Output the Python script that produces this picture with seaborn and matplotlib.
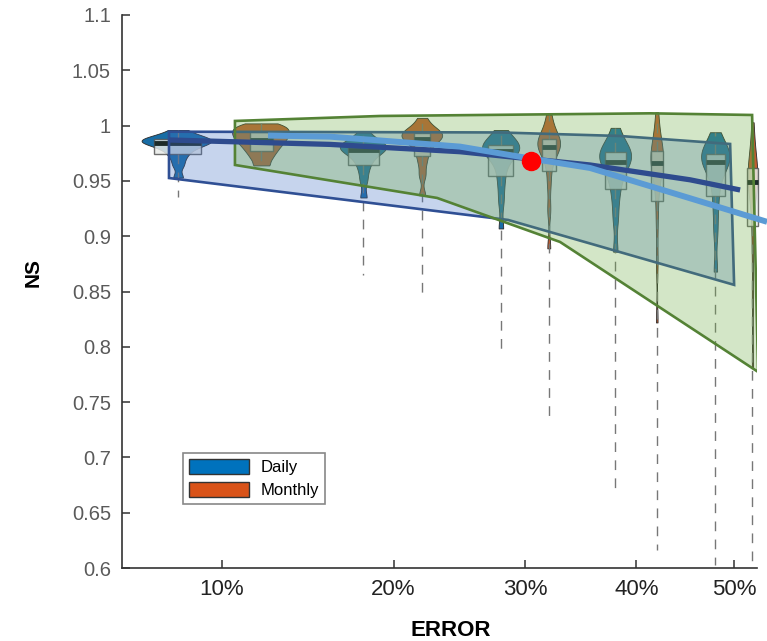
import numpy as np
import pandas as pd
import matplotlib
matplotlib.use("Agg")
import matplotlib.pyplot as plt
import seaborn as sns
from matplotlib.patches import Patch
from matplotlib.colors import to_rgba
from matplotlib.ticker import FixedLocator, MultipleLocator, FuncFormatter

# ---------------- data ----------------
errors = [10, 20, 30, 40, 50]
error_labels = ["10%", "20%", "30%", "40%", "50%"]
series_names = ["Daily", "Monthly"]

daily_10 = [0.996, 0.9917, 0.9896, 0.9883, 0.9874, 0.9865, 0.9857, 0.9848, 0.9835, 0.9818, 0.9792, 0.9758, 0.9711, 0.9642, 0.953]
daily_20 = [0.994, 0.9881, 0.9852, 0.9834, 0.9822, 0.9810, 0.9798, 0.9787, 0.9769, 0.9745, 0.9710, 0.9663, 0.9598, 0.9503, 0.935]
daily_30 = [0.996, 0.9889, 0.9853, 0.9831, 0.9818, 0.9804, 0.9791, 0.9778, 0.9760, 0.9729, 0.9666, 0.9577, 0.9462, 0.9310, 0.907]
daily_40 = [0.998, 0.9868, 0.9812, 0.9778, 0.9756, 0.9734, 0.9711, 0.9689, 0.9655, 0.9610, 0.9543, 0.9454, 0.9330, 0.9151, 0.886]
daily_50 = [0.994, 0.9840, 0.9791, 0.9760, 0.9741, 0.9722, 0.9704, 0.9685, 0.9661, 0.9617, 0.9531, 0.9407, 0.9246, 0.9034, 0.868]

monthly_10 = [1.002, 0.9997, 0.9978, 0.9959, 0.9940, 0.9921, 0.9902, 0.9883, 0.9860, 0.9838, 0.9811, 0.9781, 0.9746, 0.9701, 0.964]
monthly_20 = [1.007, 1.0000, 0.9965, 0.9944, 0.9930, 0.9916, 0.9902, 0.9888, 0.9867, 0.9839, 0.9797, 0.9741, 0.9664, 0.9552, 0.937]
monthly_30 = [1.010, 1.0003, 0.9931, 0.9894, 0.9870, 0.9852, 0.9834, 0.9816, 0.9798, 0.9773, 0.9725, 0.9628, 0.9471, 0.9241, 0.889]
monthly_40 = [1.012, 0.9968, 0.9854, 0.9797, 0.9759, 0.9731, 0.9702, 0.9674, 0.9645, 0.9607, 0.9531, 0.9379, 0.9132, 0.8771, 0.822]
monthly_50 = [1.003, 0.9852, 0.9719, 0.9653, 0.9608, 0.9575, 0.9542, 0.9508, 0.9475, 0.9431, 0.9342, 0.9164, 0.8876, 0.8454, 0.781]

daily_samples = [daily_10, daily_20, daily_30, daily_40, daily_50]
monthly_samples = [monthly_10, monthly_20, monthly_30, monthly_40, monthly_50]

# lowest whisker values
daily_low = [0.935, 0.865, 0.795, 0.671, 0.603]
monthly_low = [0.962, 0.842, 0.734, 0.616, 0.600]

# envelopes
blue_band_x = [7.61, 27.93, 38.45, 49.57, 50.0, 28.58, 7.61]
blue_band_y = [0.9945, 0.9938, 0.9906, 0.9834, 0.856, 0.9147, 0.9526]
green_band_x = [10.64, 19.09, 41.34, 51.96, 52.62, 32.98, 23.08, 10.64]
green_band_y = [1.0042, 1.0087, 1.0111, 1.0096, 0.7773, 0.8948, 0.9346, 0.9644]

# trend lines
dark_line_x = [7.61, 15.90, 24.79, 35.66, 45.36, 50.65]
dark_line_y = [0.987, 0.983, 0.9764, 0.9644, 0.951, 0.9418]
light_line_x = [12.35, 15.90, 24.79, 30.40, 35.66, 45.36, 53.62]
light_line_y = [0.991, 0.990, 0.981, 0.9703, 0.9617, 0.9343, 0.913]
point_x = [30.45]
point_y = [0.968]

# ---------------- tables ----------------
rows = []
for err, d, m in zip(errors, daily_samples, monthly_samples):
    rows += [(err, "Daily", v) for v in d]
    rows += [(err, "Monthly", v) for v in m]
df = pd.DataFrame(rows, columns=["ERROR", "Series", "NS"])
low_rows = [(e, "Daily", v) for e, v in zip(errors, daily_low)] + \
           [(e, "Monthly", v) for e, v in zip(errors, monthly_low)]
box_df = pd.concat([df, pd.DataFrame(low_rows, columns=df.columns)], ignore_index=True)

# ---------------- style ----------------
plt.rcParams["font.family"] = ["Liberation Sans", "DejaVu Sans"]
palette = {"Daily": "#0072BD", "Monthly": "#D95319"}
box_palette = {"Daily": "#e8eae8", "Monthly": "#e8eae8"}

fig = plt.figure(figsize=(7.67, 6.41), dpi=100)
ax = fig.add_axes([122 / 767, 1 - 568 / 641, 635 / 767, 553 / 641])

common = dict(x="ERROR", y="NS", hue="Series", hue_order=series_names,
              native_scale=True, dodge=True, width=0.8, legend=False, ax=ax)
vio = dict(palette=palette, inner=None, cut=0, gap=0.25,
           linecolor="#2a2a2a", linewidth=0.6)
box = dict(palette=box_palette, whis=(0, 100), showfliers=False,
           linecolor="#555555", linewidth=1.0, boxprops={"alpha": 0.85},
           medianprops={"color": "#1d2b29", "linewidth": 3.5},
           whiskerprops={"color": "#777777", "linewidth": 1.0, "linestyle": (0, (7, 6))},
           capprops={"linewidth": 0})

sns.violinplot(data=df[df["Series"] == "Daily"], density_norm="width",
               bw_adjust=0.6, **vio, **common)
sns.violinplot(data=df[df["Series"] == "Monthly"], density_norm="area",
               common_norm=True, bw_adjust=0.5, **vio, **common)
sns.boxplot(data=box_df[box_df["Series"] == "Daily"], gap=0.5, **box, **common)
sns.boxplot(data=box_df[box_df["Series"] == "Monthly"], gap=0.7, **box, **common)
for art in list(ax.collections) + list(ax.patches) + list(ax.lines):
    art.set_clip_on(False)

# square-root error axis
ax.set_xscale("function", functions=(lambda v: np.sqrt(np.maximum(v, 0)),
                                     lambda v: np.square(v)))

ax.fill(blue_band_x, blue_band_y, facecolor=to_rgba("#4472c4", 0.3),
        edgecolor="#2f4f94", linewidth=1.9, zorder=3)
ax.fill(green_band_x, green_band_y, facecolor=to_rgba("#70ad47", 0.3),
        edgecolor="#548235", linewidth=1.9, zorder=3.1)
ax.plot(dark_line_x, dark_line_y, color="#2e4b8e", linewidth=3.8,
        solid_capstyle="butt", zorder=4)
ax.plot(light_line_x, light_line_y, color="#5b9bd5", linewidth=4.3,
        solid_capstyle="butt", zorder=4.1, clip_on=False)
ax.plot(point_x, point_y, "o", color="#ff0000", markersize=13, zorder=5)

ax.set_xlim(5.76, 52.5)
ax.set_ylim(0.6, 1.1)
ax.xaxis.set_major_locator(FixedLocator(errors))
ax.xaxis.set_minor_locator(FixedLocator([]))
ax.set_xticklabels(error_labels)
ax.yaxis.set_major_locator(MultipleLocator(0.05))
ax.yaxis.set_major_formatter(FuncFormatter(lambda v, p: f"{v:g}"))

for s in ["top", "right"]:
    ax.spines[s].set_visible(False)
for s in ["left", "bottom"]:
    ax.spines[s].set_color("#333333")
    ax.spines[s].set_linewidth(1.2)
ax.tick_params(axis="y", direction="in", length=6, width=1.1, labelsize=14.5,
               labelcolor="#5a5a5a", pad=8, color="#333333")
ax.tick_params(axis="x", direction="in", length=6, width=1.1, labelsize=16,
               labelcolor="#222222", pad=8, color="#333333")

ax.set_xlabel("ERROR", fontsize=16, fontweight="bold", va="top")
ax.xaxis.set_label_coords(0.517, -0.094)
ax.set_ylabel("NS", fontsize=15, fontweight="bold",
              family=["Liberation Sans Narrow", "Liberation Sans", "DejaVu Sans"])
ax.yaxis.set_label_coords(-0.125, 0.535)

handles = [Patch(facecolor=palette[n], edgecolor="#333333", linewidth=1.0, label=n)
           for n in series_names]
leg = ax.legend(handles=handles, loc="upper left", bbox_to_anchor=(0.096, 0.2085),
                borderaxespad=0, fontsize=12, handlelength=3.6, handleheight=1.05,
                handletextpad=0.7, labelspacing=0.4, borderpad=0.35,
                fancybox=False, framealpha=1, edgecolor="#888888")
leg.get_frame().set_linewidth(1.2)
leg.set_zorder(10)

fig.savefig("out.png", dpi=100)
